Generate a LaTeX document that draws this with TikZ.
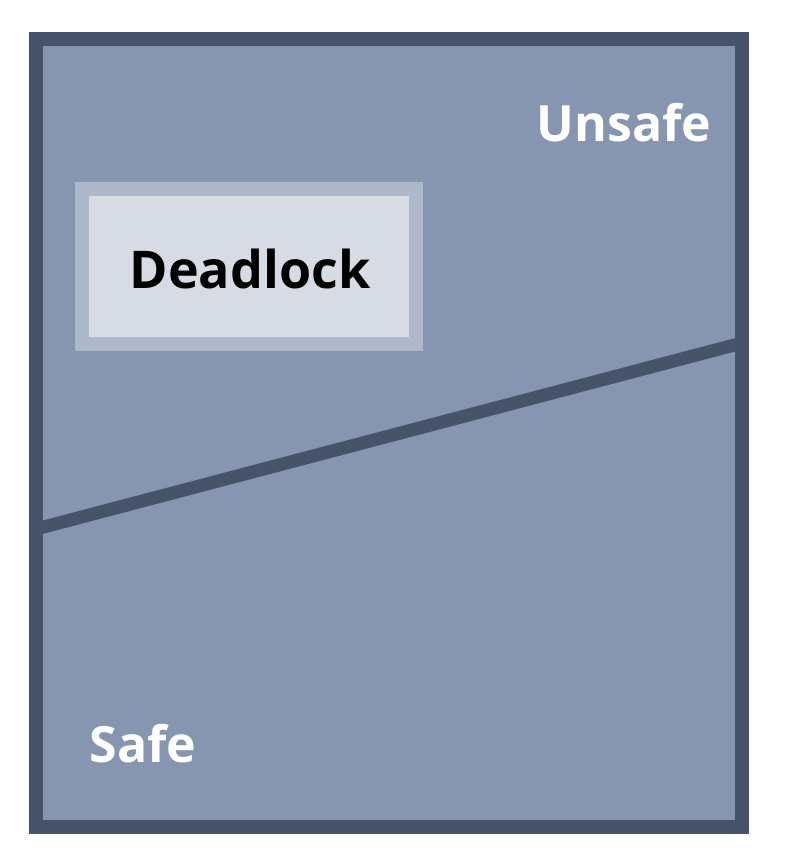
\documentclass[tikz,border=0pt]{standalone}
\usepackage{fontspec}
\setmainfont{Open Sans}
\usepackage{tikz}
\usetikzlibrary{positioning, calc}
\usepackage{xcolor}

\definecolor{framegray}{HTML}{475369}
\definecolor{regionfill}{HTML}{8796B0}
\definecolor{lockborder}{HTML}{ADB8CA}
\definecolor{lockfill}{HTML}{D6DBE4}

\begin{document}
\begin{tikzpicture}[
    x=1pt, y=-1pt,
    region/.style={draw=framegray, line width=14pt},
    divider/.style={draw=framegray, line width=13pt},
    lockbox/.style={rectangle, draw=lockborder, fill=lockfill, line width=14pt, minimum width=334pt, minimum height=155pt, inner sep=0pt},
    locktext/.style={font=\fontsize{52}{60}\selectfont\bfseries, text=black, anchor=base, inner sep=0pt},
    statetext/.style={font=\fontsize{50}{58}\selectfont\bfseries, text=white, anchor=base, inner sep=0pt}
]
\useasboundingbox (0,0) rectangle (784,864);

% 状态空间
\fill[regionfill] (36,39) rectangle (742,827);
\coordinate (divL) at (36,529);
\coordinate (divR) at (742,343);
\draw[divider] (divL) -- (divR);
\draw[region] (36,39) rectangle (742,827);

% 死锁区域
\node[lockbox] (deadlock) at (249,266.5) {};
\node[locktext] (deadlocklabel) at (250,288) {Deadlock};

% 标签
\node[statetext] (unsafe) at (624,141) {Unsafe};
\node[statetext] (safe) at (143,762) {Safe};
\end{tikzpicture}
\end{document}
